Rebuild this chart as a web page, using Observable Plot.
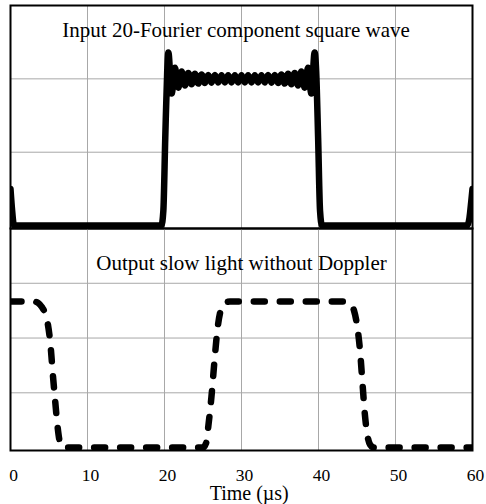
<!DOCTYPE html>
<html><head><meta charset="utf-8">
<script src="https://cdn.jsdelivr.net/npm/d3@7"></script>
<script src="https://cdn.jsdelivr.net/npm/@observablehq/plot@0.6"></script>
<style>
html,body{margin:0;padding:0;background:#fff;}
#chart svg{display:block;overflow:visible;}
</style></head><body><div id="chart"></div>
<script>
const xTicks = [0, 10, 20, 30, 40, 50, 60];
const topTitle = "Input 20-Fourier component square wave";
const bottomTitle = "Output slow light without Doppler";
const xLabel = "Time (µs)";
const topGrid = [0.5, 1.0];
const bottomGrid = [0.375, 0.75, 1.125];

// Input: 20-Fourier-component square wave
const inputT = [0, 0.2, 0.45, 1, 19, 19.6, 19.85, 20.1, 20.35,
  20.50, 20.93, 21.36, 21.80, 22.23, 22.66, 23.09, 23.52, 23.95, 24.39, 24.82,
  25.25, 25.68, 26.11, 26.55, 26.98, 27.41, 27.84, 28.27, 28.70, 29.14, 29.57,
  30.00, 30.43, 30.86, 31.30, 31.73, 32.16, 32.59, 33.02, 33.45, 33.89, 34.32,
  34.75, 35.18, 35.61, 36.05, 36.48, 36.91, 37.34, 37.77, 38.20, 38.64, 39.07, 39.50,
  39.7, 39.95, 40.2, 40.45, 41, 59.3, 59.6, 59.85, 60];
const inputV = [0.25, 0.11, 0, 0, 0, 0, 0.1, 0.6, 1.05,
  1.18, 0.90, 1.075, 0.94, 1.05, 0.955, 1.04, 0.963, 1.034, 0.968, 1.03,
  0.972, 1.027, 0.974, 1.026, 0.975, 1.025, 0.975, 1.025, 0.975, 1.025, 0.975,
  1.025, 0.975, 1.025, 0.975, 1.025, 0.975, 1.025, 0.975, 1.026, 0.974, 1.027,
  0.972, 1.03, 0.968, 1.034, 0.963, 1.04, 0.955, 1.05, 0.94, 1.075, 0.90, 1.18,
  1.05, 0.6, 0.1, 0, 0, 0, 0.05, 0.17, 0.25];

// Output: slow light without Doppler
const outputT = [0, 3.0, 3.6, 4.1, 4.5, 4.8, 5.2, 5.5, 5.8, 6.1, 6.4, 6.8,
  25.0, 25.4, 25.7, 26.1, 26.5, 26.9, 27.3, 27.8, 28.5,
  43.6, 44.1, 44.6, 45.0, 45.4, 45.7, 46.0, 46.3, 46.7, 47.2, 60];
const outputV = [1, 1, 0.99, 0.96, 0.92, 0.86, 0.7, 0.5, 0.32, 0.15, 0.04, 0,
  0, 0.03, 0.15, 0.35, 0.6, 0.82, 0.94, 0.99, 1,
  1, 0.985, 0.94, 0.84, 0.66, 0.45, 0.24, 0.1, 0.02, 0, 0];

const W = 486;
const xDomain = [0, 60];
const yDomain = [-0.02, 1.5];
const font = "'Liberation Serif', 'Times New Roman', serif";
const gridColor = "#a8a8a8";

const input = inputT.map((t, i) => ({t, v: inputV[i]}));
const output = outputT.map((t, i) => ({t, v: outputV[i]}));
const innerTicks = xTicks.filter(d => d > xDomain[0] && d < xDomain[1]);

const topPlot = Plot.plot({
  width: W, height: 228, marginTop: 5, marginBottom: 0, marginLeft: 10, marginRight: 14,
  x: {domain: xDomain, axis: null},
  y: {domain: yDomain, axis: null},
  style: {fontFamily: font, background: "white", color: "black"},
  marks: [
    Plot.ruleX(innerTicks, {stroke: gridColor, strokeWidth: 1}),
    Plot.ruleY(topGrid, {stroke: gridColor, strokeWidth: 1}),
    Plot.line(input, {x: "t", y: "v", stroke: "black", strokeWidth: 6.5, curve: "monotone-x",
      strokeLinejoin: "round", clip: true}),
    Plot.text([topTitle], {x: 29.3, y: 1.33, text: d => d, fontSize: 21, fill: "black"}),
    Plot.frame({stroke: "black", strokeWidth: 2})
  ]
});

const bottomPlot = Plot.plot({
  width: W, height: 276, marginTop: 0, marginBottom: 54, marginLeft: 10, marginRight: 14,
  x: {domain: xDomain},
  y: {domain: yDomain, axis: null},
  style: {fontFamily: font, background: "white", color: "black", fontSize: "18px"},
  marks: [
    Plot.ruleX(innerTicks, {stroke: gridColor, strokeWidth: 1}),
    Plot.ruleY(bottomGrid, {stroke: gridColor, strokeWidth: 1}),
    Plot.line(output, {x: "t", y: "v", stroke: "black", strokeWidth: 6.5, curve: "monotone-x",
      strokeDasharray: "11,15", strokeLinecap: "round", strokeLinejoin: "round", clip: true}),
    Plot.text([bottomTitle], {x: 30, y: 1.26, text: d => d, fontSize: 21, fill: "black"}),
    Plot.axisX(xTicks, {tickSize: 0, tickPadding: 18, dx: 3, fontSize: 17.5, label: null, fill: "black"}),
    Plot.text([xLabel], {x: 31, frameAnchor: "bottom", dy: 49, text: d => d, fontSize: 20, fill: "black"}),
    Plot.frame({stroke: "black", strokeWidth: 2})
  ]
});

const chart = document.getElementById("chart");
chart.appendChild(topPlot);
chart.appendChild(bottomPlot);
</script>
</body></html>
